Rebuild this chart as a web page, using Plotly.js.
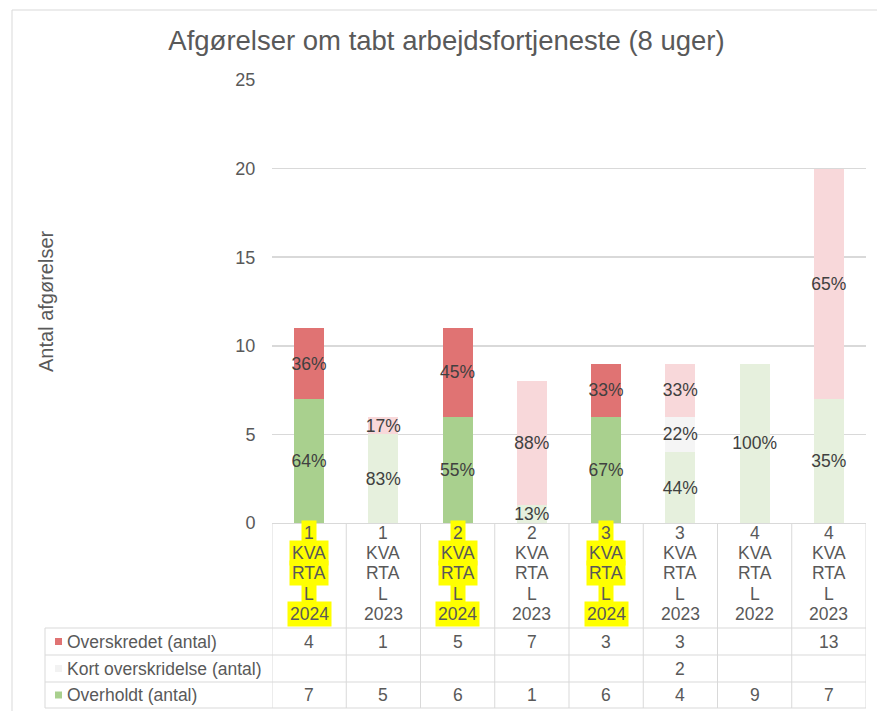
<!DOCTYPE html>
<html><head><meta charset="utf-8">
<script src="https://cdn.plot.ly/plotly-3.0.1.min.js"></script>
<style>html,body{margin:0;padding:0;background:#fff}#chart{width:877px;height:711px}</style>
</head><body><div id="chart"></div>
<script>
// ---- data ----
const categories = ['1 KVARTAL 2024','1 KVARTAL 2023','2 KVARTAL 2024','2 KVARTAL 2023','3 KVARTAL 2024','3 KVARTAL 2023','4 KVARTAL 2022','4 KVARTAL 2023'];
const categoryLines = [
  ['1','KVA','RTA','L','2024'],
  ['1','KVA','RTA','L','2023'],
  ['2','KVA','RTA','L','2024'],
  ['2','KVA','RTA','L','2023'],
  ['3','KVA','RTA','L','2024'],
  ['3','KVA','RTA','L','2023'],
  ['4','KVA','RTA','L','2022'],
  ['4','KVA','RTA','L','2023']
];
const highlighted = [true,false,true,false,true,false,false,false];
const overskredet = [4,1,5,7,3,3,null,13];
const kortOverskridelse = [null,null,null,null,null,2,null,null];
const overholdt = [7,5,6,1,6,4,9,7];
const seriesNames = ['Overskredet (antal)','Kort overskridelse (antal)','Overholdt (antal)'];
const yTicks = [0,5,10,15,20,25];

// ---- styles ----
const solid = {red:'#e07373', kort:'#f2f2f2', green:'#a9d08e'};
const faded = {red:'#f8d8da', kort:'#f5f5f5', green:'#e6f0dd'};
const txt = '#595959';
const lineCol = '#d9d9d9';
const FONT = 'Liberation Sans, Arial, sans-serif';

const totals = categories.map((c,i)=>(overskredet[i]||0)+(kortOverskridelse[i]||0)+(overholdt[i]||0));
const pct = arr => arr.map((v,i)=> v ? Math.round(v/totals[i]*100)+'%' : '');

function barTrace(name, vals, key){
  return {
    type:'bar', name:name, x:categories, y:vals,
    marker:{color: categories.map((c,i)=> highlighted[i] ? solid[key] : faded[key]), line:{width:0}},
    text: pct(vals), textposition:'inside', insidetextanchor:'middle', textangle:0,
    constraintext:'none', textfont:{family:FONT, size:17.5, color:'#404040'},
    hoverinfo:'skip', cliponaxis:false
  };
}
const data = [
  barTrace(seriesNames[2], overholdt, 'green'),
  barTrace(seriesNames[1], kortOverskridelse, 'kort'),
  barTrace(seriesNames[0], overskredet, 'red')
];

// geometry helpers (pixel -> paper)
const L=272, R=866, T=80, B=523;
const px = v => (v-L)/(R-L);
const py = v => (B-v)/(B-T);

const shapes = [];
const annotations = [];
// outer frame
shapes.push({type:'rect', xref:'paper', yref:'paper', x0:px(12), x1:px(900), y0:py(730), y1:py(10), line:{color:lineCol, width:1}, layer:'below'});
// table horizontal lines
[628,655,682,708].forEach(yy=>{
  shapes.push({type:'line', xref:'paper', yref:'paper', x0:px(45), x1:1, y0:py(yy), y1:py(yy), line:{color:lineCol, width:1}});
});
// table vertical lines at category boundaries
for(let i=0;i<=categories.length;i++){
  shapes.push({type:'line', xref:'x', yref:'paper', x0:i-0.5, x1:i-0.5, y0:0, y1:py(708), line:{color:lineCol, width:1}});
}
shapes.push({type:'line', xref:'paper', yref:'paper', x0:px(45), x1:px(45), y0:py(628), y1:py(708), line:{color:lineCol, width:1}});

// category labels (line by line)
categoryLines.forEach((lines,i)=>{
  lines.forEach((t,k)=>{
    annotations.push({xref:'x', yref:'paper', x:categories[i], y:py(533+20.2*k), text:t, showarrow:false,
      xanchor:'center', yanchor:'middle', font:{family:FONT, size:17.5, color:txt},
      bgcolor: highlighted[i] ? '#ffff00' : 'rgba(0,0,0,0)', borderpad:2});
  });
});

// legend rows + values
const rows = [
  {name:seriesNames[0], vals:overskredet, color:solid.red, yc:641.5},
  {name:seriesNames[1], vals:kortOverskridelse, color:solid.kort, yc:668.5},
  {name:seriesNames[2], vals:overholdt, color:solid.green, yc:695}
];
rows.forEach(r=>{
  shapes.push({type:'rect', xref:'paper', yref:'paper', x0:px(55), x1:px(62), y0:py(r.yc+3.5), y1:py(r.yc-3.5), fillcolor:r.color, line:{width:0}});
  annotations.push({xref:'paper', yref:'paper', x:px(65), y:py(r.yc), text:r.name, showarrow:false,
    xanchor:'left', yanchor:'middle', font:{family:FONT, size:17.5, color:txt}});
  r.vals.forEach((v,i)=>{
    if(v===null) return;
    annotations.push({xref:'x', yref:'paper', x:categories[i], y:py(r.yc), text:String(v), showarrow:false,
      xanchor:'center', yanchor:'middle', font:{family:FONT, size:17.5, color:txt}});
  });
});

// y-axis title
annotations.push({xref:'paper', yref:'paper', x:px(46), y:py(301), text:'Antal afgørelser', textangle:-90, showarrow:false,
  xanchor:'center', yanchor:'middle', font:{family:FONT, size:20, color:txt}});

const layout = {
  width:877, height:711,
  margin:{l:L, r:877-R, t:T, b:711-B},
  paper_bgcolor:'#ffffff', plot_bgcolor:'#ffffff',
  barmode:'stack', bargap:0.596, showlegend:false,
  title:{text:'Afgørelser om tabt arbejdsfortjeneste (8 uger)', font:{family:FONT, size:27.5, color:txt},
    x:446.5/877, xref:'container', xanchor:'center', y:1-40/711, yref:'container', yanchor:'middle'},
  xaxis:{type:'category', range:[-0.5, categories.length-0.5], showticklabels:false, showgrid:false, zeroline:false, showline:false, ticks:'', fixedrange:true},
  yaxis:{range:[0,25], tickvals:yTicks, ticktext:yTicks.map(String), showgrid:true, gridcolor:lineCol, gridwidth:1.5,
    zeroline:true, zerolinecolor:lineCol, zerolinewidth:1, showline:false,
    ticks:'outside', ticklen:12, tickcolor:'rgba(0,0,0,0)', tickfont:{family:FONT, size:18, color:txt}, fixedrange:true},
  shapes:shapes, annotations:annotations,
  font:{family:FONT, color:txt}
};
Plotly.newPlot('chart', data, layout, {staticPlot:true, displayModeBar:false});
</script>
</body></html>
